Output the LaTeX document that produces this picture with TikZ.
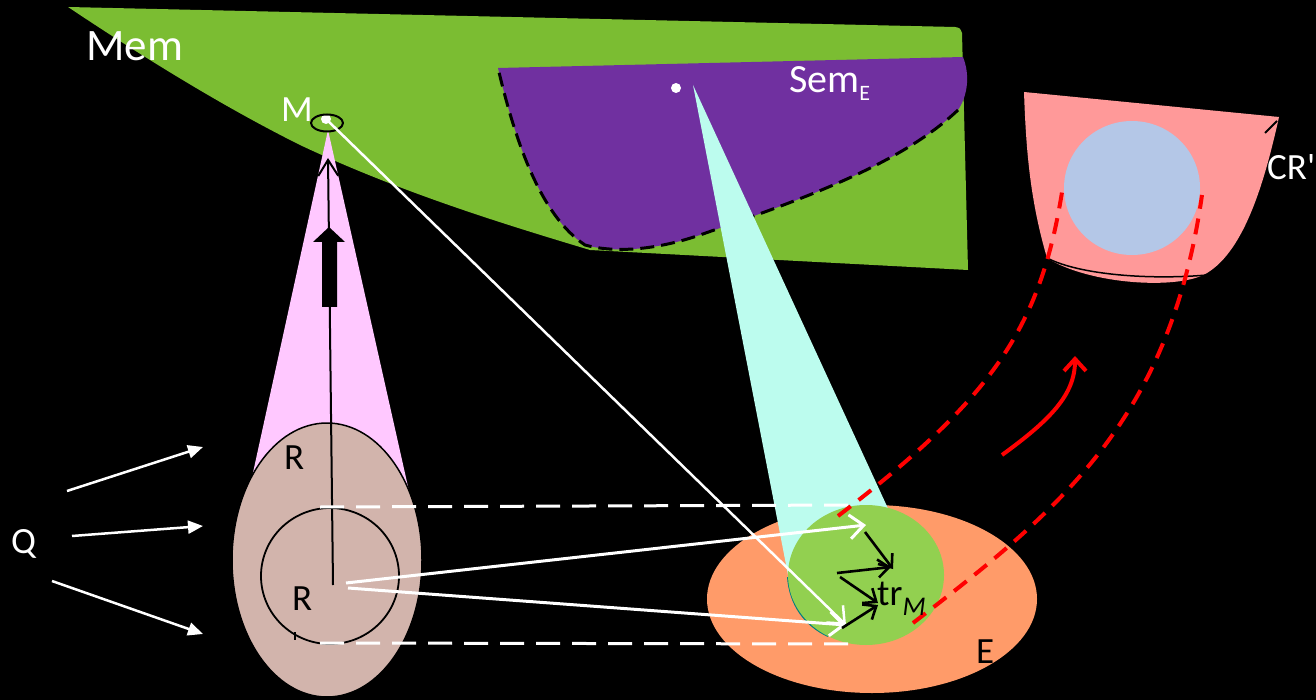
\documentclass[tikz,border=0pt]{standalone}
\usepackage{fontspec}
\setmainfont{Carlito}
\usetikzlibrary{arrows.meta}
\definecolor{memgreen}{RGB}{123,189,50}
\definecolor{sempurple}{RGB}{112,48,160}
\definecolor{conecyan}{RGB}{188,252,238}
\definecolor{conepink}{RGB}{255,200,255}
\definecolor{rbrown}{RGB}{210,180,172}
\definecolor{eorange}{RGB}{255,155,105}
\definecolor{trgreen}{RGB}{146,208,80}
\definecolor{crpink}{RGB}{255,153,153}
\definecolor{crblue}{RGB}{180,199,231}
\definecolor{tealarc}{RGB}{0,128,128}
\begin{document}
\begin{tikzpicture}[x=1pt,y=-1pt,line join=round,
  lbl/.style={inner sep=0pt,anchor=base west,font=\fontsize{37}{44}\selectfont},
  whitearrow/.style={white,line width=3pt,-{Straight Barb[length=14pt,width=24pt,line width=3pt]}},
  blackarrow/.style={black,line width=2.6pt,-{Straight Barb[length=11pt,width=18pt,line width=2.6pt]}},
  qarrow/.style={white,line width=2.5pt,-{Triangle[length=15pt,width=13pt]}},
  reddash/.style={red,line width=4pt,dash pattern=on 16pt off 10pt},
  whitedash/.style={white,line width=3pt,dash pattern=on 24pt off 12pt}]
\useasboundingbox (0,0) rectangle (1316,700);
\fill[black] (0,0) rectangle (1316,700);
% Mem region
\fill[memgreen] (68,7) -- (955,27) .. controls (960,28) .. (962,33) -- (968,270) -- (590,250)
  .. controls (500,223) and (400,192) .. (300,145) .. controls (220,105) and (140,55) .. (68,7) -- cycle;
% Sem_E region
\fill[sempurple] (498,68) -- (963,57) .. controls (970,75) and (968,95) .. (958,110)
  .. controls (900,165) and (800,200) .. (700,235)
  .. controls (650,252) and (610,252) .. (585,245)
  .. controls (540,215) and (515,140) .. (498,68) -- cycle;
\draw[black,line width=3pt,dash pattern=on 14pt off 7pt] (958,110)
  .. controls (900,165) and (800,200) .. (700,235)
  .. controls (650,252) and (610,252) .. (585,245)
  .. controls (540,215) and (515,140) .. (498,68);
\fill[white] (676,88) circle (5pt);
% pink cone
\fill[conepink] (328,130) -- (247,500) -- (411,500) -- cycle;
% CR' region
\fill[crpink] (1024,92) -- (1279,117) .. controls (1265,180) and (1245,250) .. (1207,273)
  .. controls (1180,290) and (1090,285) .. (1047,258)
  .. controls (1030,200) and (1026,150) .. (1024,92) -- cycle;
\fill[crblue] (1132,188) ellipse [x radius=68pt,y radius=67pt];
\draw[black,line width=1.5pt] (1047,258) .. controls (1080,275) and (1150,280) .. (1207,275);
\draw[black,line width=2pt] (1265,133) -- (1277,121);
% E region
\fill[eorange] (872,599) ellipse [x radius=165pt,y radius=94pt];
\fill[conecyan] (693,85) -- (891,515) -- (866,575) -- (788.6,578) -- cycle;
\draw[tealarc,line width=2pt] (788,577) .. controls (790,605) and (805,625) .. (828,636);
\fill[trgreen] (866,575) ellipse [x radius=78pt,y radius=70pt];
% R region
\fill[rbrown] (327,560) ellipse [x radius=95pt,y radius=137pt];
\draw[black,line width=1.5pt] (327,560) ellipse [x radius=95pt,y radius=137pt];
\draw[black,line width=1.8pt] (330,576) ellipse [x radius=69pt,y radius=68pt];
\draw[black,line width=1.5pt] (295,632) -- (295,640);
% M marker
\fill[white] (326,119) circle (5pt);
\draw[black,line width=2pt] (327,123) ellipse [x radius=16pt,y radius=8.5pt];
% coordinates
\coordinate (rc) at (333,585);
\coordinate (rtop) at (328,158);
\coordinate (rs1) at (346,583);
\coordinate (rs2) at (348,588);
\coordinate (t1) at (866,525);
\coordinate (t2) at (846,625);
\coordinate (mdot) at (326,119);
\coordinate (q1s) at (67,491);
\coordinate (q1e) at (203,447);
\coordinate (q2s) at (72,536);
\coordinate (q2e) at (203,526);
\coordinate (q3s) at (52,581);
\coordinate (q3e) at (203,634);
\coordinate (d1s) at (320,507);
\coordinate (d1e) at (857,505);
\coordinate (d2s) at (320,643);
\coordinate (d2e) at (858,644);
\coordinate (a1s) at (865,532);
\coordinate (a1e) at (893,569);
\coordinate (a2s) at (837,573);
\coordinate (a2e) at (891,567);
\coordinate (a3s) at (840,577);
\coordinate (a3e) at (878,603);
\coordinate (a4s) at (842,628);
\coordinate (a4e) at (878,605);
\coordinate (l1s) at (838,516);
\coordinate (l1e) at (1062,192);
\coordinate (l2s) at (913,623);
\coordinate (l2e) at (1202,195);
\coordinate (cs) at (1002,455);
\coordinate (ce) at (1075,356);
% vertical arrow
\draw[black,line width=2pt,-{Straight Barb[length=16pt,width=20pt,line width=2pt]}] (rc) -- (rtop);
\fill[black] (322,307) -- (322,242) -- (313,242) -- (329,227) -- (345,242) -- (337,242) -- (337,307) -- cycle;
% white dashed
\draw[whitedash] (d1s) -- (d1e);
\draw[whitedash] (d2s) -- (d2e);
% Q arrows
\draw[qarrow] (q1s) -- (q1e);
\draw[qarrow] (q2s) -- (q2e);
\draw[qarrow] (q3s) -- (q3e);
% white arrows
\draw[white,line width=2.5pt,-{Straight Barb[length=14pt,width=24pt,line width=2.5pt]}] (mdot) -- (t2);
\draw[whitearrow] (rs1) -- (t1);
\draw[whitearrow] (rs2) -- (t2);
% black arrows in tr_M
\draw[blackarrow] (a1s) -- (a1e);
\draw[blackarrow] (a2s) -- (a2e);
\draw[blackarrow] (a3s) -- (a3e);
\draw[blackarrow] (a4s) -- (a4e);
% red dashed
\draw[reddash] (l1s) .. controls (990,400) and (1040,330) .. (l1e);
\draw[reddash] (l2s) .. controls (1060,510) and (1170,420) .. (l2e);
\draw[red,line width=4pt,-{Straight Barb[length=12pt,width=22pt,line width=4pt]}] (cs) .. controls (1050,420) and (1075,395) .. (ce);
% labels
\node[lbl,white,font=\fontsize{45}{54}\selectfont] (mem) at (86,61) {Mem};
\node[lbl,white] (mlabel) at (281,122) {M};
\node[lbl,white,font=\fontsize{40}{48}\selectfont] (sem) at (789,93) {Sem\raisebox{-8pt}{\fontsize{22}{22}\selectfont E}};
\node[lbl,white] (cr) at (1267,180) {CR\textquotesingle};
\node[lbl,white] (q) at (11,553) {Q};
\node[lbl,black] (r1) at (284,469) {R};
\node[lbl,black] (r2) at (292,610) {R};
\node[lbl,black] (e) at (976,663) {E};
\node[lbl,black] (tr) at (877,605) {tr\raisebox{-10pt}{\fontsize{27}{27}\selectfont\itshape M}};
\end{tikzpicture}
\end{document}
